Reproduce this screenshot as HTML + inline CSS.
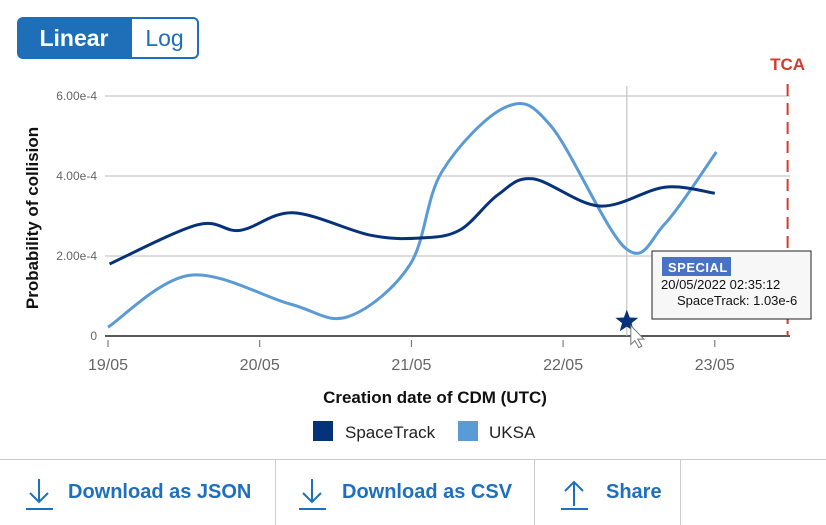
<!DOCTYPE html>
<html><head><meta charset="utf-8">
<style>
body{margin:0;width:826px;height:524px;background:#fff;font-family:"Liberation Sans",sans-serif;position:relative;overflow:hidden}
.tog{position:absolute;top:17px;height:42px;box-sizing:border-box;font-size:23px;display:flex;align-items:center;justify-content:center}
#lin{left:17px;width:114px;background:#1f6fb8;color:#fff;font-weight:bold;border-radius:6px 0 0 6px}
#log{left:130px;width:69px;border:2px solid #1f6fb8;color:#1f6fb8;border-radius:0 6px 6px 0}
.btnrow{position:absolute;top:459px;left:0;width:826px;height:65px;border-top:1px solid #ccc}
.btn{position:absolute;top:0;height:65px;display:flex;align-items:center;color:#1f6fbf;font-weight:bold;font-size:20px}
.div{position:absolute;top:0;width:1px;height:65px;background:#ccc}
</style></head><body>
<div id="lin" class="tog">Linear</div>
<div id="log" class="tog">Log</div>
<svg id="chart" width="826" height="460" style="position:absolute;left:0;top:0"></svg>
<div class="btnrow">
 <div class="btn" style="left:24px"><svg width="30" height="34" style="margin-right:14px"><path d="M15 3V26M6 17l9 9 9-9M2 33h27" stroke="#1f6fbf" stroke-width="2" fill="none"/></svg>Download as JSON</div>
 <div class="div" style="left:275px"></div>
 <div class="btn" style="left:297px"><svg width="30" height="34" style="margin-right:15px"><path d="M15 3V26M6 17l9 9 9-9M2 33h27" stroke="#1f6fbf" stroke-width="2" fill="none"/></svg>Download as CSV</div>
 <div class="div" style="left:534px"></div>
 <div class="btn" style="left:559px"><svg width="30" height="34" style="margin-right:17px"><path d="M15 30V6M6 15l9-9 9 9M2 33h27" stroke="#1f6fbf" stroke-width="2" fill="none"/></svg>Share</div>
 <div class="div" style="left:680px"></div>
</div>
<script>
const dates=["19/05","20/05","21/05","22/05","23/05"];
const yTicks=[0,2e-4,4e-4,6e-4];
const yTickLabels=["0","2.00e-4","4.00e-4","6.00e-4"];
const stDays=[19.01,19.59,19.87,20.22,20.73,21.06,21.32,21.57,21.8,22.24,22.67,23.0];
const stVals=[1.8e-4,2.78e-4,2.64e-4,3.08e-4,2.52e-4,2.45e-4,2.65e-4,3.53e-4,3.93e-4,3.25e-4,3.72e-4,3.57e-4];
const ukDays=[19.0,19.54,20.2,20.58,20.99,21.2,21.62,21.92,22.41,22.67,23.01];
const ukVals=[0.22e-4,1.52e-4,0.8e-4,0.48e-4,1.78e-4,4.1e-4,5.72e-4,5.25e-4,2.2e-4,2.8e-4,4.6e-4];
const tcaDay=23.48, markDay=22.42, markVal=1.03e-6;
const X=d=>108+(d-19)*151.7, Y=v=>336-v/2e-4*80;
const svg=document.getElementById('chart'),NS='http://www.w3.org/2000/svg';
function el(t,a,txt){const e=document.createElementNS(NS,t);for(const k in a)e.setAttribute(k,a[k]);if(txt!=null)e.textContent=txt;svg.appendChild(e);return e;}
yTicks.forEach((v,i)=>{
 if(i>0){const g=el('line',{x1:105,x2:790,y1:Y(v),y2:Y(v),stroke:'#bbb','stroke-width':1});
 }
 const t=el('text',{x:97,y:Y(v)+4,'text-anchor':'end','font-size':12,fill:'#666'},yTickLabels[i]);
 
});
const ax=el('line',{x1:105,x2:790,y1:336,y2:336,stroke:'#222','stroke-width':1.5});

dates.forEach((d,i)=>{const x=X(19+i);
 const tk=el('line',{x1:x,x2:x,y1:340,y2:347,stroke:'#666'});
 
 const t=el('text',{x:x,y:370,'text-anchor':'middle','font-size':16,fill:'#666'},d);
 });
const ch=el('line',{x1:X(markDay),x2:X(markDay),y1:86,y2:336,stroke:'#bbb'});

const tca=el('line',{x1:X(tcaDay),x2:X(tcaDay),y1:84,y2:336,stroke:'#d63a2a','stroke-width':2,'stroke-dasharray':'12,7'});

const tt=el('text',{x:X(tcaDay),y:70,'text-anchor':'middle','font-size':17,'font-weight':'bold',fill:'#d63a2a'},'TCA');

function path(ds,vs){const p=ds.map((d,i)=>[X(d),Y(vs[i])]);let s=`M${p[0][0]},${p[0][1]}`;
 for(let i=0;i<p.length-1;i++){const p0=p[Math.max(0,i-1)],p1=p[i],p2=p[i+1],p3=p[Math.min(p.length-1,i+2)];
 s+=` C${p1[0]+(p2[0]-p0[0])/6},${p1[1]+(p2[1]-p0[1])/6} ${p2[0]-(p3[0]-p1[0])/6},${p2[1]-(p3[1]-p1[1])/6} ${p2[0]},${p2[1]}`;}return s;}
const l2=el('path',{d:path(ukDays,ukVals),fill:'none',stroke:'#5b9bd5','stroke-width':3});

const l1=el('path',{d:path(stDays,stVals),fill:'none',stroke:'#06327a','stroke-width':3});

const sx=X(markDay),sy=Y(markVal)-14;
let sp='';for(let i=0;i<10;i++){const r=i%2?5:12,a=-Math.PI/2+i*Math.PI/5;sp+=(i?'L':'M')+(sx+r*Math.cos(a))+','+(sy+r*Math.sin(a));}
const st=el('path',{d:sp+'Z',fill:'#06327a'});

const cur=el('path',{d:`M${sx+4},${sy+4} l0,19 l4,-4 l4,7 l3,-1.5 l-4,-7 l6,0 Z`,fill:'#fff',stroke:'#777','stroke-width':1});

const yt=el('text',{x:38,y:218,'text-anchor':'middle','font-size':17,'font-weight':'bold',fill:'#111',transform:'rotate(-90 38 218)'},'Probability of collision');

const xt=el('text',{x:435,y:403,'text-anchor':'middle','font-size':17,'font-weight':'bold',fill:'#111'},'Creation date of CDM (UTC)');

[['SpaceTrack','#06327a',313,345],['UKSA','#5b9bd5',458,489]].forEach(l=>{
 const r=el('rect',{x:l[2],y:421,width:20,height:20,fill:l[1]});
 
 const t=el('text',{x:l[3],y:438,'font-size':17,fill:'#222'},l[0]);
 });
const tb=el('rect',{x:652,y:251,width:159,height:68,fill:'#f7f7f7',stroke:'#222','stroke-width':1});

const bd=el('rect',{x:662,y:257,width:69,height:19,fill:'#4a72c4'});

const bt=el('text',{x:668,y:272,'font-size':13,'font-weight':'bold',fill:'#fff','letter-spacing':0.5},'SPECIAL');

const t1=el('text',{x:661,y:289,'font-size':13,fill:'#111'},'20/05/2022 02:35:12');

const t2=el('text',{x:677,y:305,'font-size':13,fill:'#111'},'SpaceTrack: 1.03e-6');

</script>
</body></html>
